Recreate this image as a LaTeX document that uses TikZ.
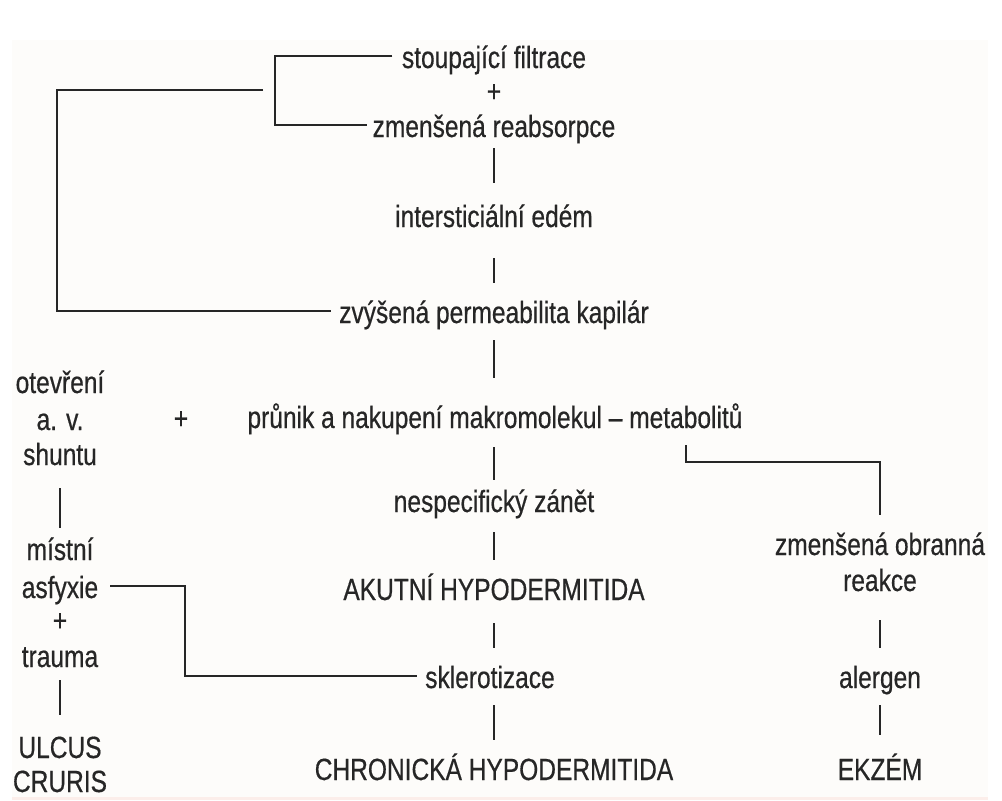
\documentclass[tikz,border=0pt]{standalone}
\usepackage{fontspec}
\setmainfont{Liberation Sans}[FakeStretch=0.80,FakeBold=0.5]
\usetikzlibrary{calc}
\definecolor{ink}{HTML}{262626}
\definecolor{panel}{HTML}{FDFCFA}
\definecolor{strip}{HTML}{FCEEEA}
\begin{document}
\begin{tikzpicture}[x=0.75pt,y=-0.75pt,
  lbl/.style={anchor=base,inner sep=0pt,text=ink,font=\fontsize{23}{27}\selectfont,
              text height=18pt,text depth=0pt,align=center},
  plus/.style={inner sep=0pt,text=ink,font=\fontsize{23}{27}\selectfont},
  conn/.style={draw=ink,line width=1.6pt},
  barline/.style={draw=ink,line width=1.5pt}]
\fill[white] (0,0) rectangle (1002,800);
\fill[panel] (12,40) rectangle (988,797);
\fill[strip] (12,797) rectangle (988,800);
\useasboundingbox (0,0) rectangle (1002,800);

% centre column
\node[lbl] (sf) at (494,68) {stoupající filtrace};
\node[plus] (p1) at (494,93) {+};
\node[lbl] (zr) at (494,137) {zmenšená reabsorpce};
\node[lbl] (ie) at (494,227) {intersticiální edém};
\node[lbl] (zp) at (494,323) {zvýšená permeabilita kapilár};
\node[lbl] (pr) at (495,428) {průnik a nakupení makromolekul – metabolitů};
\node[lbl] (ns) at (494,512) {nespecifický zánět};
\node[lbl] (ak) at (494,600) {AKUTNÍ HYPODERMITIDA};
\node[lbl] (sk) at (490,688) {sklerotizace};
\node[lbl] (ch) at (494,780) {CHRONICKÁ HYPODERMITIDA};

% left column
\node[lbl] (ot) at (60,393) {otevření};
\node[lbl] (av) at (60,430) {a. v.};
\node[lbl] (sh) at (60,465) {shuntu};
\node[plus] (p2) at (181,420) {+};
\node[lbl] (mi) at (60,560) {místní};
\node[lbl] (as) at (60,598) {asfyxie};
\node[plus] (p3) at (60,622) {+};
\node[lbl] (tr) at (60,667) {trauma};
\node[lbl] (ul) at (60,758) {ULCUS};
\node[lbl] (cr) at (60,792) {CRURIS};

% right column
\node[lbl] (zo) at (880,555) {zmenšená obranná};
\node[lbl] (re) at (880,591) {reakce};
\node[lbl] (al) at (880,688) {alergen};
\node[lbl] (ek) at (880,780) {EKZÉM};

% short vertical bars
\draw[barline] ($(zr.base)+(0,11)$) -- ($(ie.base)+(0,-44)$);
\draw[barline] ($(ie.base)+(0,31)$) -- ($(zp.base)+(0,-40)$);
\draw[barline] ($(zp.base)+(0,17)$) -- ($(pr.base)+(-1,-50)$);
\draw[barline] ($(pr.base)+(-1,19)$) -- ($(ns.base)+(0,-32)$);
\draw[barline] ($(ns.base)+(0,20)$) -- ($(ak.base)+(0,-40)$);
\draw[barline] ($(ak.base)+(0,23)$) -- ($(sk.base)+(4,-40)$);
\draw[barline] ($(sk.base)+(4,17)$) -- ($(ch.base)+(0,-40)$);
\draw[barline] ($(sh.base)+(0,23)$) -- ($(mi.base)+(0,-32)$);
\draw[barline] ($(tr.base)+(0,13)$) -- ($(ul.base)+(0,-43)$);
\draw[barline] ($(re.base)+(0,29)$) -- ($(al.base)+(0,-40)$);
\draw[barline] ($(al.base)+(0,17)$) -- ($(ek.base)+(0,-45)$);

% bracket connectors
\coordinate (bx1) at (275,0);
\coordinate (bx2) at (57,0);
\coordinate (q2) at (263,90);
\coordinate (q3) at (686,445);
\coordinate (bx3) at (880,462);
\coordinate (bx4) at (185,0);

\draw[conn] ([xshift=-7pt]sf.west) -- (sf.west -| bx1) -- (zr.west -| bx1) -- ([xshift=-4pt]zr.west);
\draw[conn] (q2) -- (q2 -| bx2) -- (zp.west -| bx2) -- ([xshift=-6pt]zp.west);
\draw[conn] (q3) -- (q3 |- bx3) -- (bx3) -- ($(zo.base)+(0,-40)$);
\draw[conn] ([xshift=9pt]as.east) -- (as.east -| bx4) -- (sk.west -| bx4) -- ([xshift=-6pt]sk.west);
\end{tikzpicture}
\end{document}
